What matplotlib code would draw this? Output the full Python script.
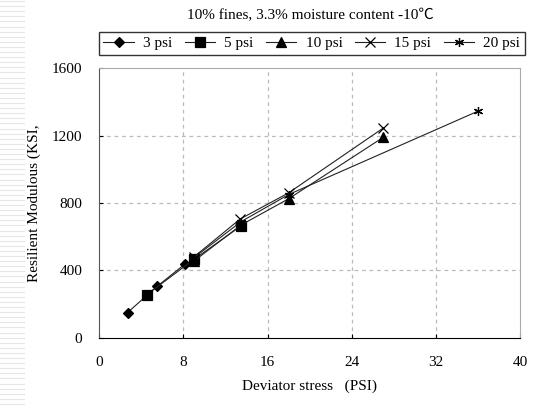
import numpy as np
import matplotlib
matplotlib.use("Agg")
import matplotlib.pyplot as plt
from matplotlib.lines import Line2D

plt.rcParams['font.family'] = ['Liberation Serif', 'DejaVu Serif']

# data
labels = ["3 psi", "5 psi", "10 psi", "15 psi", "20 psi"]
x_3 = [2.7, 5.5, 8.2]
y_3 = [150, 305, 440]
x_5 = [4.5, 9.0, 13.5]
y_5 = [255, 465, 665]
x_10 = [9.0, 13.5, 18.0, 27.0]
y_10 = [455, 670, 825, 1190]
x_15 = [9.0, 13.4, 18.0, 27.0]
y_15 = [480, 705, 860, 1245]
x_20 = [9.0, 13.5, 18.0, 36.0]
y_20 = [475, 690, 850, 1345]

series = [(x_3, y_3), (x_5, y_5), (x_10, y_10), (x_15, y_15), (x_20, y_20)]
markers = ['D', 's', '^', 'x', (6, 2, 0)]
msizes = [5, 6.5, 6.5, 7.5, 6.5]

fig = plt.figure(figsize=(5.33, 4.08), dpi=100)
ax = fig.add_axes([0.186, 0.172, 0.790, 0.661])

# slide background stripes on the left edge
for yy in np.arange(0.01, 1.0, 0.0125):
    fig.add_artist(Line2D([0.0, 0.045], [yy, yy], color='#e6e6e6', lw=0.8))

for (xs, ys), m, ms, lab in zip(series, markers, msizes, labels):
    ax.plot(xs, ys, color='#222222', lw=0.8, marker=m, markersize=ms,
            markerfacecolor='black', markeredgecolor='black', markeredgewidth=0.9,
            label=lab)

ax.set_xlim(0, 40)
ax.set_ylim(0, 1600)
ax.set_xticks([0, 8, 16, 24, 32, 40])
ax.set_yticks([0, 400, 800, 1200, 1600])
ax.tick_params(labelsize=11, length=3, direction='in', width=0.8)
ax.tick_params(axis='x', pad=13)
ax.tick_params(axis='y', pad=12)

for v in [8, 16, 24, 32]:
    ax.axvline(v, color='#bbbbbb', lw=0.9, ls=(0, (3, 3)), zorder=0)
for v in [400, 800, 1200]:
    ax.axhline(v, color='#bbbbbb', lw=0.9, ls=(0, (3, 3)), zorder=0)

ax.spines['left'].set_color('#555555')
ax.spines['top'].set_color('#aaaaaa')
ax.spines['right'].set_color('#aaaaaa')
ax.spines['bottom'].set_color('black')

ax.set_xlabel("Deviator stress   (PSI)", fontsize=11, labelpad=8)
ax.set_ylabel("Resilient Modulous (KSI,", fontsize=11, labelpad=8)

fig.text(0.583, 0.962, "10% fines, 3.3% moisture content -10\u2103", ha='center',
         va='center', fontsize=11, family=['Liberation Serif', 'Noto Sans CJK SC'])

leg = fig.legend(loc='center', bbox_to_anchor=(0.585, 0.894), ncol=5, fontsize=11,
                 frameon=True, fancybox=False, edgecolor='black', handlelength=2.0,
                 handletextpad=0.6, columnspacing=0.8, borderpad=0.3)
leg.get_frame().set_linewidth(1.0)

fig.savefig("out.png", dpi=100)
